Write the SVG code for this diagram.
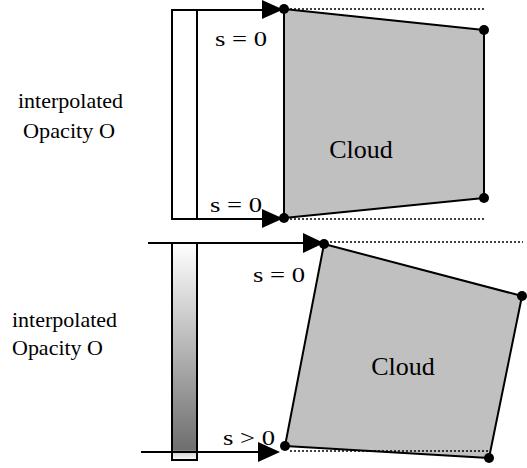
<svg xmlns="http://www.w3.org/2000/svg" width="527" height="468" viewBox="0 0 527 468" font-family="Liberation Serif, serif">
  <style>
    .lbl { font-size: 21px; }
    .s { font-size: 22px; }
    .cloud-txt { font-size: 26px; }
    .ln { stroke: #000; stroke-width: 2; fill: none; }
    .dot { stroke: #000; stroke-width: 1.5; stroke-dasharray: 2 2; fill: none; }
    .cloud { fill: #c0c0c0; stroke: #000; stroke-width: 2; stroke-linejoin: round; }
    .bar { stroke: #000; stroke-width: 2; }
    .pt, .head { fill: #000; }
  </style>
  <defs>
    <linearGradient id="opacityRamp" x1="0" y1="0" x2="0" y2="1">
      <stop offset="0" stop-color="#ffffff"/>
      <stop offset="0.955" stop-color="#6e6e6e"/>
      <stop offset="0.96" stop-color="#cfcfcf"/>
      <stop offset="1" stop-color="#fafafa"/>
    </linearGradient>
  </defs>

  <!-- upper case: constant opacity, s = 0 at both vertices -->
  <g id="opacity-label-top">
    <text class="lbl" font-family="Liberation Serif" x="18" y="108" textLength="105" lengthAdjust="spacingAndGlyphs">interpolated</text>
    <text class="lbl" font-family="Liberation Serif" x="23" y="138" textLength="92" lengthAdjust="spacingAndGlyphs">Opacity O</text>
  </g>
  <g id="opacity-bar-top">
    <rect class="bar" x="172" y="10" width="25" height="209" fill="#fff"/>
  </g>
  <g id="cloud-top">
    <polygon class="cloud" points="284,9 484,30 484,198 284,218"/>
    <text class="cloud-txt" font-family="Liberation Serif" x="361" y="158" text-anchor="middle">Cloud</text>
  </g>
  <g id="vertex-top-1">
    <circle class="pt" cx="284" cy="9" r="5"/>
    <text class="s" font-family="Liberation Serif" x="215" y="46" textLength="52" lengthAdjust="spacingAndGlyphs">s = 0</text>
  </g>
  <g id="vertex-top-2"><circle class="pt" cx="484" cy="30" r="5"/></g>
  <g id="vertex-top-3"><circle class="pt" cx="484" cy="198" r="5"/></g>
  <g id="vertex-top-4">
    <circle class="pt" cx="284" cy="218" r="5"/>
    <text class="s" font-family="Liberation Serif" x="210" y="212" textLength="52" lengthAdjust="spacingAndGlyphs">s = 0</text>
  </g>

  <!-- lower case: opacity ramps, s > 0 at the lower vertex -->
  <g id="opacity-label-bottom">
    <text class="lbl" font-family="Liberation Serif" x="12" y="327" textLength="105" lengthAdjust="spacingAndGlyphs">interpolated</text>
    <text class="lbl" font-family="Liberation Serif" x="12" y="355" textLength="91" lengthAdjust="spacingAndGlyphs">Opacity O</text>
  </g>
  <g id="opacity-bar-bottom">
    <rect class="bar" x="172" y="243" width="25" height="217" fill="url(#opacityRamp)"/>
  </g>
  <g id="cloud-bottom">
    <polygon class="cloud" points="324,244 522,296 489,458 285,446"/>
    <text class="cloud-txt" font-family="Liberation Serif" x="403" y="375" text-anchor="middle">Cloud</text>
  </g>
  <g id="vertex-bottom-1">
    <circle class="pt" cx="324" cy="244" r="5"/>
    <text class="s" font-family="Liberation Serif" x="253" y="282" textLength="52" lengthAdjust="spacingAndGlyphs">s = 0</text>
  </g>
  <g id="vertex-bottom-2"><circle class="pt" cx="522" cy="296" r="5"/></g>
  <g id="vertex-bottom-3"><circle class="pt" cx="489" cy="458" r="5"/></g>
  <g id="vertex-bottom-4">
    <circle class="pt" cx="285" cy="446" r="5"/>
    <text class="s" font-family="Liberation Serif" x="223" y="445" textLength="52" lengthAdjust="spacingAndGlyphs">s &gt; 0</text>
  </g>

  <!-- rays and their projections -->
  <g id="connectors">
    <line class="ln" x1="172" y1="10" x2="264" y2="10"/>
    <polygon class="head" points="262,0 283,9.5 262,19"/>
    <line class="ln" x1="172" y1="219" x2="264" y2="219"/>
    <polygon class="head" points="262,209 283,218.5 262,228"/>
    <line class="dot" x1="290" y1="9" x2="484" y2="9"/>
    <line class="dot" x1="290" y1="219" x2="484" y2="219"/>

    <line class="ln" x1="148" y1="243" x2="305" y2="243"/>
    <polygon class="head" points="303,233 324,243 303,253"/>
    <line class="ln" x1="141" y1="452" x2="260" y2="452"/>
    <polygon class="head" points="258,442 280,452 258,462"/>
    <line class="dot" x1="330" y1="242" x2="523" y2="242"/>
    <line class="dot" x1="290" y1="451" x2="490" y2="451"/>
  </g>
</svg>
